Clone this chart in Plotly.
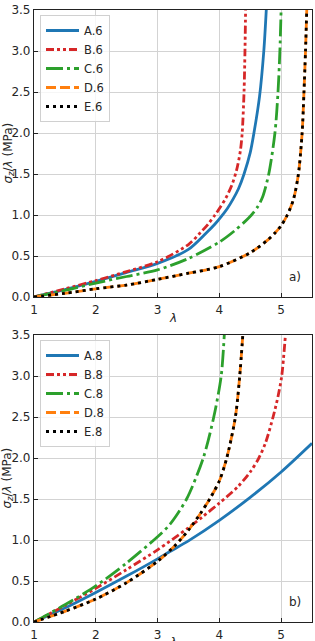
import plotly.graph_objects as go

# ---------------- data ----------------
# panel a)
a6_x = [1, 1.5, 2, 2.5, 3, 3.5, 3.8, 3.93, 4.03, 4.13, 4.22, 4.31, 4.40, 4.50, 4.56, 4.65, 4.72, 4.76]
a6_y = [0, 0.09, 0.19, 0.30, 0.41, 0.58, 0.79, 0.89, 0.98, 1.08, 1.19, 1.32, 1.5, 1.76, 2.0, 2.44, 3.0, 3.5]
b6_x = [1, 1.5, 2, 2.5, 3, 3.5, 3.7, 3.82, 3.93, 4.02, 4.1, 4.2, 4.28, 4.34, 4.37, 4.40, 4.415, 4.425]
b6_y = [0, 0.10, 0.20, 0.31, 0.43, 0.64, 0.79, 0.89, 1.0, 1.1, 1.2, 1.36, 1.55, 1.78, 2.0, 2.5, 3.0, 3.5]
c6_x = [1, 1.5, 2, 2.5, 3, 3.5, 4, 4.25, 4.4, 4.52, 4.62, 4.70, 4.80, 4.90, 4.95, 4.98, 5.0]
c6_y = [0, 0.08, 0.17, 0.25, 0.33, 0.47, 0.67, 0.81, 0.91, 1.0, 1.1, 1.22, 1.5, 2.0, 2.5, 3.0, 3.5]
d6_x = [1, 1.5, 2, 2.5, 3, 3.5, 4, 4.5, 4.79, 4.9, 5.0, 5.1, 5.2, 5.28, 5.34, 5.37, 5.395, 5.415]
d6_y = [0, 0.045, 0.10, 0.146, 0.215, 0.29, 0.37, 0.54, 0.70, 0.78, 0.87, 1.0, 1.19, 1.5, 2.0, 2.5, 3.0, 3.5]
e6_x = [1, 1.5, 2, 2.5, 3, 3.5, 4, 4.5, 4.79, 4.9, 5.0, 5.1, 5.2, 5.28, 5.34, 5.37, 5.395, 5.415]
e6_y = [0, 0.045, 0.10, 0.146, 0.215, 0.29, 0.37, 0.54, 0.70, 0.78, 0.87, 1.0, 1.19, 1.5, 2.0, 2.5, 3.0, 3.5]

# panel b)
a8_x = [1, 1.5, 2, 2.5, 3, 3.2, 3.5, 4.0, 4.5, 5.0, 5.5]
a8_y = [0, 0.17, 0.36, 0.56, 0.77, 0.86, 0.99, 1.24, 1.52, 1.83, 2.18]
b8_x = [1, 1.5, 2, 2.5, 3, 3.5, 3.74, 4.0, 4.3, 4.5, 4.64, 4.75, 4.87, 4.95, 5.01, 5.07]
b8_y = [0, 0.20, 0.41, 0.64, 0.88, 1.15, 1.29, 1.45, 1.65, 1.83, 2.0, 2.19, 2.5, 2.75, 3.0, 3.5]
c8_x = [1, 1.5, 2, 2.5, 3, 3.2, 3.47, 3.74, 3.91, 4.03, 4.08]
c8_y = [0, 0.21, 0.44, 0.72, 1.04, 1.19, 1.5, 2.0, 2.5, 3.0, 3.5]
d8_x = [1, 1.5, 2, 2.5, 3, 3.28, 3.5, 3.7, 3.86, 4.0, 4.12, 4.26, 4.33, 4.38]
d8_y = [0, 0.13, 0.28, 0.48, 0.74, 0.93, 1.12, 1.33, 1.52, 1.72, 2.0, 2.5, 3.0, 3.5]
e8_x = [1, 1.5, 2, 2.5, 3, 3.28, 3.5, 3.7, 3.86, 4.0, 4.12, 4.26, 4.33, 4.38]
e8_y = [0, 0.13, 0.28, 0.48, 0.74, 0.93, 1.12, 1.33, 1.52, 1.72, 2.0, 2.5, 3.0, 3.5]

names_a = ["A.6", "B.6", "C.6", "D.6", "E.6"]
names_b = ["A.8", "B.8", "C.8", "D.8", "E.8"]
x_ticks = [1, 2, 3, 4, 5]
y_ticks = [0.0, 0.5, 1.0, 1.5, 2.0, 2.5, 3.0, 3.5]
y_tick_text = ["0.0", "0.5", "1.0", "1.5", "2.0", "2.5", "3.0", "3.5"]
x_title = "<i>λ</i>"
y_title = "<i>σ</i><sub><i>z</i></sub>/<i>λ</i> (MPa)"
panel_labels = ["a)", "b)"]

# ---------------- styles ----------------
colors = ["#1f77b4", "#d62728", "#2ca02c", "#ff7f0e", "#000000"]
dashes = ["solid", "8px,3px,3px,3px,3px,3px", "17px,4px,3px,4px", "10px,4px", "3px,4px"]
LW = 2.8

fig = go.Figure()

series_a = [(a6_x, a6_y), (b6_x, b6_y), (c6_x, c6_y), (d6_x, d6_y), (e6_x, e6_y)]
series_b = [(a8_x, a8_y), (b8_x, b8_y), (c8_x, c8_y), (d8_x, d8_y), (e8_x, e8_y)]

for i, (xs, ys) in enumerate(series_a):
    fig.add_trace(go.Scatter(
        x=xs, y=ys, mode="lines", name=names_a[i],
        line=dict(color=colors[i], width=LW, dash=dashes[i], shape="spline", smoothing=0.8),
        xaxis="x", yaxis="y", legend="legend"))
for i, (xs, ys) in enumerate(series_b):
    fig.add_trace(go.Scatter(
        x=xs, y=ys, mode="lines", name=names_b[i],
        line=dict(color=colors[i], width=LW, dash=dashes[i], shape="spline", smoothing=0.8),
        xaxis="x2", yaxis="y2", legend="legend2"))

FONT = "DejaVu Sans"
TXT = "#262626"
tick_font = dict(family=FONT, size=12, color=TXT)
title_font = dict(family=FONT, size=12, color=TXT)

common_x = dict(range=[1, 5.5], tickvals=x_ticks, ticks="inside", ticklen=4, tickcolor="#222",
                showline=True, linecolor="#222", linewidth=1.2, mirror=True,
                showgrid=True, gridcolor="#d3d3d3", gridwidth=1, zeroline=False,
                tickfont=tick_font, ticklabelstandoff=1, automargin=False)
common_y = dict(range=[0, 3.5], tickvals=y_ticks, ticktext=y_tick_text, ticks="inside", ticklen=4,
                tickcolor="#222", showline=True, linecolor="#222", linewidth=1.2, mirror=True,
                showgrid=True, gridcolor="#d3d3d3", gridwidth=1, zeroline=False,
                tickfont=tick_font, ticklabelstandoff=0, automargin=False)

legend_style = dict(font=dict(family=FONT, size=11.5, color=TXT), bgcolor="rgba(255,255,255,0.8)",
                    bordercolor="#d0d0d0", borderwidth=1, xanchor="left", yanchor="top",
                    itemwidth=33, tracegroupgap=0)

H, W = 641, 315
ML, MR, MT, MB = 34, 3, 10, 19
PH = H - MT - MB
PW = W - ML - MR

def py(px):
    """pixel row -> paper y"""
    return (H - MB - px) / PH

def pxx(px):
    """pixel column -> paper x"""
    return (px - ML) / PW

annotations = []
for k, (xd, yd, cy, ty) in enumerate([("x", "y", 153.5, 318), ("x2", "y2", 478.5, 642)]):
    annotations.append(dict(text=y_title, textangle=-90, x=pxx(8), y=py(cy), xref="paper", yref="paper",
                            xanchor="center", yanchor="middle", showarrow=False, font=title_font))
    annotations.append(dict(text=x_title, x=0.5, y=py(ty), xref="paper", yref="paper",
                            xanchor="center", yanchor="middle", showarrow=False, font=title_font))
    annotations.append(dict(text=panel_labels[k], x=0.94, y=0.071, xref=xd + " domain", yref=yd + " domain",
                            xanchor="center", yanchor="middle", showarrow=False,
                            font=dict(family=FONT, size=12, color=TXT)))

fig.update_layout(
    width=W, height=H,
    margin=dict(l=ML, r=MR, t=MT, b=MB),
    paper_bgcolor="white", plot_bgcolor="white",
    xaxis=dict(domain=[0, 1], anchor="y", **common_x),
    yaxis=dict(domain=[py(297), 1], anchor="x", **common_y),
    xaxis2=dict(domain=[0, 1], anchor="y2", **common_x),
    yaxis2=dict(domain=[0, py(335)], anchor="x2", **common_y),
    legend=dict(x=pxx(40), y=py(15), **legend_style),
    legend2=dict(x=pxx(40), y=py(340), **legend_style),
    showlegend=True,
    annotations=annotations,
)

fig.write_html("out.html")
